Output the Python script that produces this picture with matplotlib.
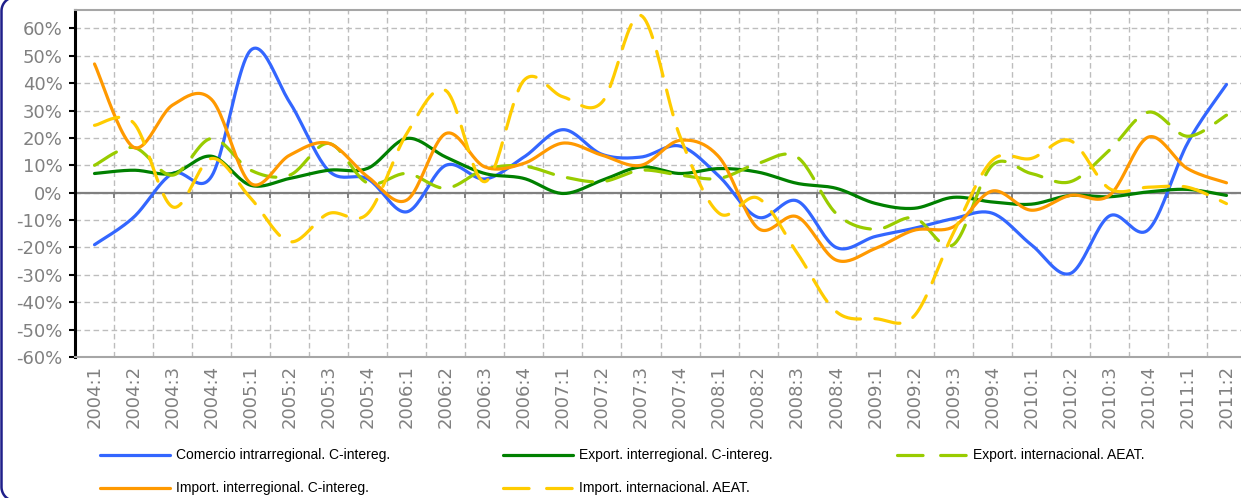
import numpy as np
import matplotlib
matplotlib.use("Agg")
import matplotlib.pyplot as plt
from matplotlib.lines import Line2D

# quarterly growth rates (%)
quarters = [f"{y}:{q}" for y in range(2004, 2011) for q in range(1, 5)] + ["2011:1", "2011:2"]

comercio_intra = [-19, -9, 7, 6, 52, 33, 8, 5, -7, 10, 5, 13, 23, 14, 13, 17, 6, -9, -3, -20,
                  -16, -13, -9.5, -7.5, -19, -29.5, -8.5, -13.5, 18, 39.5]
export_inter = [7, 8.2, 7, 13.3, 2.7, 5.2, 8.2, 8.9, 19.8, 13, 7, 5.2, -0.3, 4.5, 9.4, 7,
                8.8, 7.5, 3.4, 1.6, -3.9, -5.7, -1.7, -3.4, -4.2, -1, -1.5, 0.3, 1.2, -1]
export_intl = [10, 16.5, 6.4, 19.8, 8.2, 6.4, 18, 3.5, 7, 1.6, 8.5, 9.7, 5.8, 4, 8.2, 6.4,
               5.2, 10.7, 13, -7.6, -13.4, -9.2, -19, 10, 7, 4, 15.5, 29.4, 20.6, 28.3]
import_inter = [47, 16.6, 32, 34, 3.4, 13.7, 18, 5.8, -2.7, 21.6, 9.4, 10.7, 18.1, 13.7, 10, 19.1,
                13, -13, -8.8, -24.6, -20.4, -13.7, -12.5, 0.6, -6.4, -1, -1, 20.3, 8.8, 3.6]
import_intl = [24.6, 25.5, -5.2, 12.5, -2, -17.9, -7.6, -7.6, 21.6, 37.3, 4, 41, 35, 33, 64.7, 20.5,
               -7.5, -2, -22, -43.4, -46, -45, -14.8, 11.8, 12.5, 19, 1.5, 2, 2, -4]

series = [
    ("Comercio intrarregional. C-intereg.", comercio_intra, "#3366FF", None),
    ("Export. interregional. C-intereg.", export_inter, "#008000", None),
    ("Export. internacional. AEAT.", export_intl, "#99CC00", (8, 4.5)),
    ("Import. interregional. C-intereg.", import_inter, "#FF9900", None),
    ("Import. internacional. AEAT.", import_intl, "#FFCC00", (8, 4.5)),
]


def smooth(x, y, n=24):
    # Excel-style smoothed line: cubic Bezier through the points
    p = np.column_stack([x, y]).astype(float)
    p = np.vstack([p[0], p, p[-1]])
    t = np.linspace(0, 1, n)[:, None]
    out = []
    for i in range(1, len(p) - 2):
        b0, b3 = p[i], p[i + 1]
        b1 = b0 + (p[i + 1] - p[i - 1]) / 6
        b2 = b3 - (p[i + 2] - p[i]) / 6
        seg = (1 - t) ** 3 * b0 + 3 * (1 - t) ** 2 * t * b1 + 3 * (1 - t) * t ** 2 * b2 + t ** 3 * b3
        out.append(seg if i == 1 else seg[1:])
    out = np.vstack(out)
    return out[:, 0], out[:, 1]


plt.rcParams["font.family"] = ["Liberation Sans", "DejaVu Sans"]

W, H = 1241, 498
fig = plt.figure(figsize=(W / 100, H / 100), dpi=100)
ax = fig.add_axes([75 / W, (H - 357) / H, 1171 / W, 347 / H])

x = np.arange(len(quarters))
handles = []
for name, vals, color, dash in series:
    sx, sy = smooth(x, vals)
    ln, = ax.plot(sx, sy, color=color, lw=2.3, label=name,
                  solid_capstyle="round", dash_capstyle="round", zorder=3)
    if dash:
        ln.set_dashes(dash)
    handles.append(ln)

ax.set_xlim(-0.5, len(quarters) - 0.5)
ax.set_ylim(-60, 66.7)
ax.set_yticks(np.arange(-60, 61, 10))
ax.set_yticklabels([f"{v}%" for v in range(-60, 61, 10)], family="DejaVu Sans")
ax.set_xticks(x)
ax.set_xticklabels(quarters, rotation=90, family="DejaVu Sans")
ax.set_xticks(np.arange(-0.5, len(quarters)), minor=True)

ax.grid(True, which="minor", axis="x", color="#BDBDBD", ls=(0, (4, 2.5)), lw=1)
ax.grid(True, which="major", axis="y", color="#BDBDBD", ls=(0, (4, 2.5)), lw=1)
ax.axhline(0, color="#808080", lw=1.6, zorder=2)
ax.vlines(np.arange(0.5, len(quarters) - 1), -1.8, 0, color="#808080", lw=1.4, zorder=2)

ax.tick_params(axis="y", length=4, width=1.5, color="black", pad=5,
               labelsize=13, labelcolor="#808080")
ax.tick_params(axis="x", which="both", length=0, pad=6, labelsize=13, labelcolor="#808080")

ax.spines["left"].set_color("black")
ax.spines["left"].set_linewidth(2.2)
ax.spines["top"].set_color("#A6A6A6")
ax.spines["top"].set_linewidth(1.5)
ax.spines["bottom"].set_color("#A6A6A6")
ax.spines["bottom"].set_linewidth(1.5)
ax.spines["right"].set_visible(False)

# legend laid out like the spreadsheet: three fixed-width columns
cols = [100, 503, 897]
rows = [455, 488]
for k, ln in enumerate(handles):
    r, c = divmod(k, 3)
    x0, yy = cols[c], (H - rows[r]) / H
    h = Line2D([x0 / W, (x0 + 70) / W], [yy, yy], transform=fig.transFigure,
               color=ln.get_color(), lw=2.3, solid_capstyle="round", dash_capstyle="round")
    if ln.get_linestyle() != "-":
        h.set_dashes((8, 5.5))
    fig.add_artist(h)
    fig.text((x0 + 76) / W, yy, ln.get_label(), fontsize=10, va="center", ha="left", color="black")

# left edge of the rounded chart frame (pixels from top-left)
rad = 14
a_top = np.linspace(np.pi, np.pi / 2, 20)
a_bot = np.linspace(3 * np.pi / 2, np.pi, 20)
bx = np.concatenate([1.5 + rad + rad * np.cos(a_bot), 1.5 + rad + rad * np.cos(a_top)])
by = np.concatenate([H + 3 - rad - rad * np.sin(a_bot), -3 + rad - rad * np.sin(a_top)])
fig.add_artist(Line2D(bx[::-1] / W, 1 - by[::-1] / H, transform=fig.transFigure,
                      color="#1F1F8A", lw=1.8))

fig.savefig("out.png", dpi=100, facecolor="white")
